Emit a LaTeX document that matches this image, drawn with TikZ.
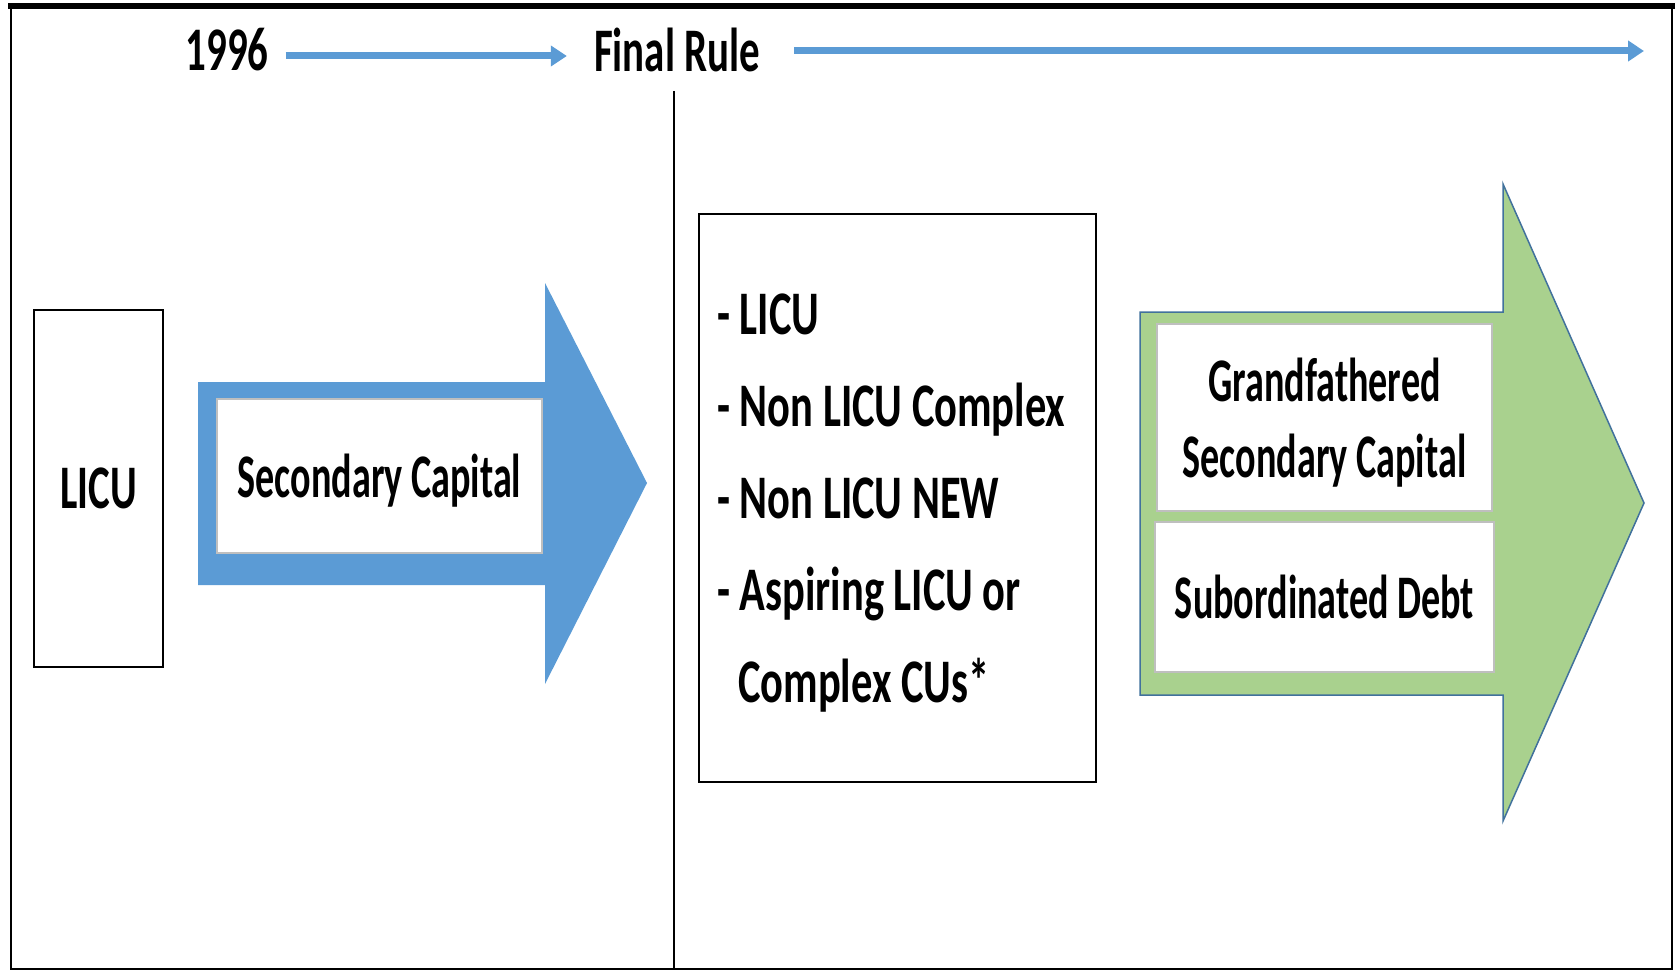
\documentclass[tikz,border=0pt]{standalone}
\usepackage{fontspec}
\setmainfont{Carlito}[FakeStretch=0.66]
\newfontfamily\listfont{Carlito}[FakeStretch=0.685]
\newfontfamily\boxfont{Carlito}[FakeStretch=0.615]
\usetikzlibrary{arrows.meta}
\definecolor{capblue}{HTML}{5B9BD5}
\definecolor{capgreen}{HTML}{A9D18E}
\definecolor{edgeblue}{HTML}{41719C}

\begin{document}
\begin{tikzpicture}[
		x=1pt, y=-1pt,
		every node/.style={font=\fontsize{62}{76}\selectfont\bfseries, inner sep=0pt},
		plainbox/.style={rectangle, draw, line width=2pt},
		whitebox/.style={rectangle, draw=black!25, line width=1.5pt, fill=white, align=center,
			text depth=0pt, font=\fontsize{62}{76}\selectfont\boxfont\bfseries},
		listitem/.style={anchor=base west, font=\fontsize{62}{76}\selectfont\listfont\bfseries},
		timeline/.style={capblue, line width=7pt, -{Triangle[length=16pt, width=20pt]}}
	]
  \useasboundingbox (0,0) rectangle (1677,971);
  \draw[line width=2pt] (11,5) rectangle (1672,969);
  \draw[line width=6pt] (8,6) -- (1675,6);
  \draw[line width=1.5pt] (674,91) -- (674,969);
  \node (yr_1996) at (227,50) {1996};
  \node (final_rule) at (677,50) {Final Rule};
  \coordinate (tl_end) at (1644,51);
  \draw[timeline] ([xshift=17pt, yshift=-6pt]yr_1996.east) -- ([xshift=-27pt, yshift=-6pt]final_rule.west);
  \draw[timeline] ([xshift=34pt, yshift=-1pt]final_rule.east) -- (tl_end);
  \node (licu) [plainbox, minimum width=129, minimum height=357] at (98.5,488.5) {LICU};
  \fill[capblue] (198,382) -- (545,382) -- (545,283) -- (647,483) -- (545,684) -- (545,585) -- (198,585) -- cycle;
  \node (sec_cap) [whitebox, minimum width=325, minimum height=154] at (379.5,476) {Secondary Capital};
  \node (cu_types) [plainbox, minimum width=397, minimum height=568] at (897.5,498) {};
  \node (item_1) [listitem] at (717,334) {- LICU};
  \node (item_2) [listitem] at (717,426) {- Non LICU Complex};
  \node (item_3) [listitem] at (717,518) {- Non LICU NEW};
  \node (item_4) [listitem] at (717,610) {- Aspiring LICU or};
  \node (item_5) [listitem] at (738,702) {Complex CUs*};
  \filldraw[fill=capgreen, draw=edgeblue, line width=1.5pt] (1140,312) -- (1503,312) -- (1503,184) -- (1644,503) -- (1503,821) -- (1503,695) -- (1140,695) -- cycle;
  \node (grandfathered) [whitebox, minimum width=335, minimum height=187] at (1324.5,417.5) {Grandfathered\\Secondary Capital};
  \node (sub_debt) [whitebox, minimum width=339, minimum height=150] at (1324.5,597) {Subordinated Debt};
\end{tikzpicture}
\end{document}
